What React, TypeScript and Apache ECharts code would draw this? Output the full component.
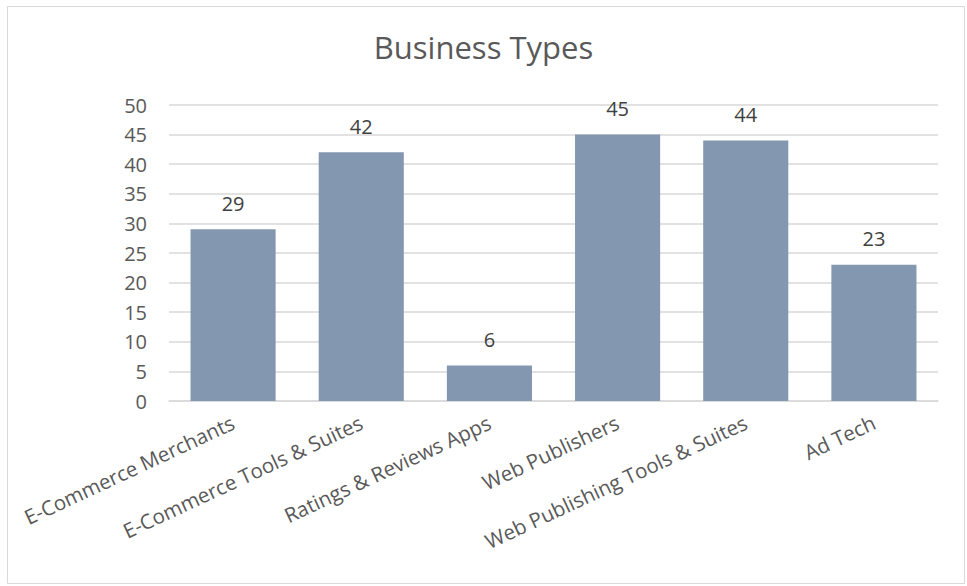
import React, { useEffect, useRef } from "react";
import * as echarts from "echarts";

const categories = [
  "E-Commerce Merchants",
  "E-Commerce Tools & Suites",
  "Ratings & Reviews Apps",
  "Web Publishers",
  "Web Publishing Tools & Suites",
  "Ad Tech",
];
const values = [29, 42, 6, 45, 44, 23];
const yMin = 0;
const yMax = 50;
const yStep = 5;
const titleText = "Business Types";

const FONT = "'Open Sans', 'Noto Sans', sans-serif";
const TEXT = "#595959";

export default function App() {
  const ref = useRef<HTMLDivElement>(null);
  useEffect(() => {
    if (!ref.current) return;
    const chart = echarts.init(ref.current, undefined, { renderer: "svg" });
    chart.setOption({
      animation: false,
      backgroundColor: "#ffffff",
      title: {
        text: titleText,
        left: "center",
        top: 26,
        textStyle: { fontFamily: FONT, fontSize: 31, fontWeight: "normal", color: TEXT },
      },
      graphic: [
        {
          type: "rect",
          shape: { x: 7.5, y: 6.5, width: 957, height: 577 },
          style: { fill: "none", stroke: "#d9d9d9", lineWidth: 1 },
          silent: true,
        },
      ],
      grid: { left: 169, right: 29, top: 105, bottom: 185, containLabel: false },
      xAxis: {
        type: "category",
        data: categories,
        axisLine: { show: true, lineStyle: { color: "#d9d9d9", width: 1.5 } },
        axisTick: { show: false },
        axisLabel: {
          rotate: 25,
          interval: 0,
          margin: 20,
          fontFamily: FONT,
          fontSize: 20.5,
          color: TEXT,
        },
      },
      yAxis: {
        type: "value",
        min: yMin,
        max: yMax,
        interval: yStep,
        axisLine: { show: false },
        axisTick: { show: false },
        splitLine: { lineStyle: { color: "#d9d9d9", width: 1.5 } },
        axisLabel: { margin: 22, fontFamily: FONT, fontSize: 20, color: TEXT },
      },
      series: [
        {
          type: "bar",
          data: values,
          barCategoryGap: "33.6%",
          itemStyle: { color: "#8497B0" },
          label: {
            show: true,
            position: "top",
            distance: 16,
            fontFamily: FONT,
            fontSize: 20,
            color: "#404040",
          },
        },
      ],
    });
    return () => chart.dispose();
  }, []);
  return (
    <div
      ref={ref}
      style={{ position: "fixed", left: 0, top: 0, width: 967, height: 586 }}
    />
  );
}
